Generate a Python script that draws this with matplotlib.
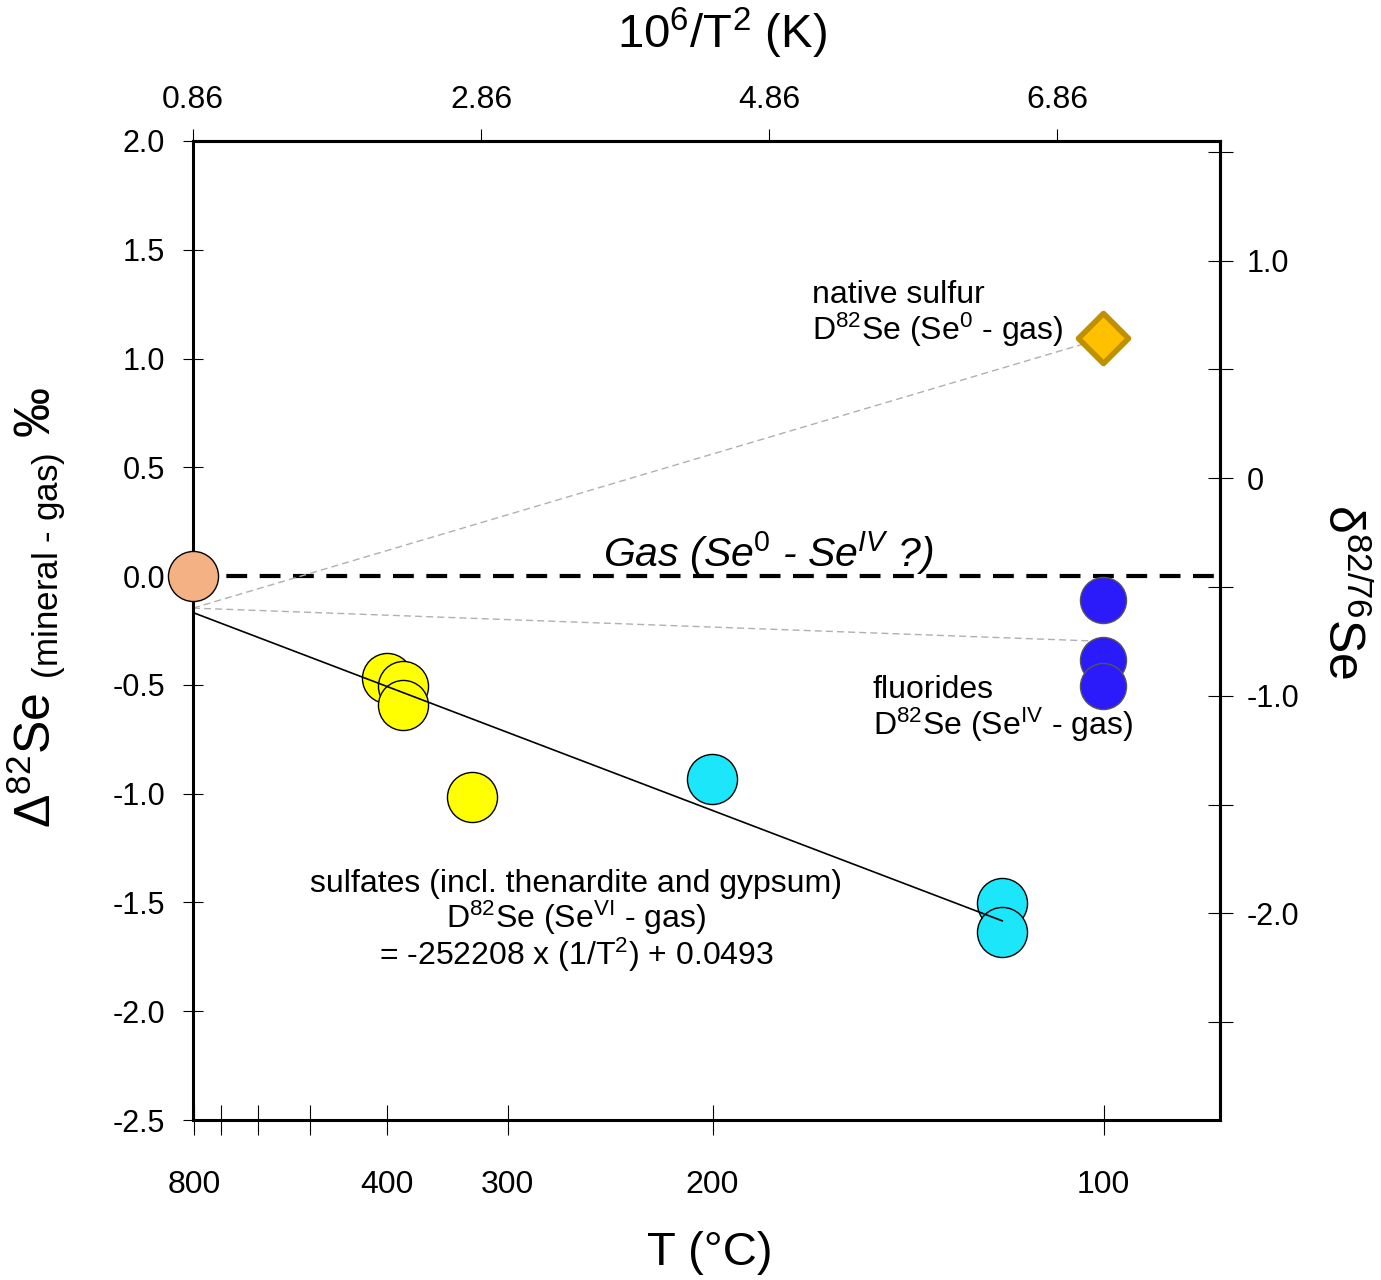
import matplotlib
matplotlib.use("Agg")
import matplotlib.pyplot as plt
from matplotlib.ticker import FixedLocator, FixedFormatter

plt.rcParams['font.family'] = ['Liberation Sans', 'DejaVu Sans']
plt.rcParams['mathtext.fontset'] = 'custom'
plt.rcParams['mathtext.rm'] = 'Liberation Sans'
plt.rcParams['mathtext.it'] = 'Liberation Sans:italic'
plt.rcParams['mathtext.bf'] = 'Liberation Sans:bold'

# ── Data (x = 10^6/T^2 in K, y = Δ82Se mineral - gas, ‰) ───────────────────
gas_x = [0.86]
gas_y = [0.0]
sulfate_hot_x = [2.207, 2.318, 2.318, 2.798]
sulfate_hot_y = [-0.470, -0.505, -0.593, -1.016]
sulfate_cool_x = [4.464, 6.478, 6.478]
sulfate_cool_y = [-0.933, -1.503, -1.637]
fluoride_x = [7.18, 7.18, 7.18]
fluoride_y = [-0.110, -0.386, -0.506]
sulfur_x = [7.18]
sulfur_y = [1.094]

# regression for sulfates (from the figure's equation, x in 10^6/T^2)
FIT_SLOPE = -0.252208
FIT_INTERCEPT = 0.0493
fit_x = [0.86, 6.478]

# grey tie lines from the gas origin
tie_x0, tie_y0 = 0.86, -0.147
tie_ends_x = [7.18, 7.18]
tie_ends_y = [1.094, -0.300]

# axes
XLIM = (0.86, 7.99)
YLIM = (-2.5, 2.0)
DELTA_OFFSET = 0.45          # δ82/76Se = Δ82Se - offset
top_ticks = [0.86, 2.86, 4.86, 6.86]
temp_major = [800, 400, 300, 200, 100]
temp_minor = [700, 600, 500]
right_ticks = [-2.5, -2.0, -1.5, -1.0, -0.5, 0.0, 0.5, 1.0, 1.5]
right_labels = ['', '-2.0', '', '-1.0', '', '0', '', '1.0', '']


def inv_t2(t_c):
    return 1e6 / (t_c + 273.15) ** 2


fig = plt.figure(figsize=(13.81, 12.8), dpi=100)
ax = fig.add_axes([193 / 1381, 1 - 1120 / 1280, (1220 - 193) / 1381, (1120 - 141) / 1280])
ax.set_xlim(*XLIM)
ax.set_ylim(*YLIM)

# lines
ax.axhline(0, xmin=0, xmax=1, color="k", lw=3, ls=(0, (5, 3)), zorder=2)
for ex, ey in zip(tie_ends_x, tie_ends_y):
    ax.plot([tie_x0, ex], [tie_y0, ey], color="#b0b0b0", lw=1, ls=(0, (5, 3)), zorder=2)
fit_y = [FIT_SLOPE * x + FIT_INTERCEPT for x in fit_x]
ax.plot(fit_x, fit_y, color="k", lw=1.2, zorder=5)

# points
S = 1300
ax.scatter(gas_x, gas_y, s=S, c="#F4B183", edgecolors="k", linewidths=1, zorder=4, clip_on=False)
ax.scatter(sulfate_hot_x, sulfate_hot_y, s=S, c="#FFFF00", edgecolors="k", linewidths=1, zorder=4)
ax.scatter(sulfate_cool_x, sulfate_cool_y, s=S, c="#1CE6FA", edgecolors="k", linewidths=1, zorder=4)
ax.scatter(fluoride_x, fluoride_y, s=1100, c="#2B1BFA", edgecolors="#555555", linewidths=1, zorder=4)
ax.scatter(sulfur_x, sulfur_y, s=650, marker="D", c="#FFC000", edgecolors="#BF9000",
           linewidths=4, zorder=4)

# annotations
FS = 23
ax.text(5.16, 1.255, "native sulfur", fontsize=FS, ha="left", va="baseline")
ax.text(5.16, 1.085, r"D$^{82}$Se (Se$^{0}$ - gas)", fontsize=FS, ha="left", va="baseline")
ax.text(5.58, -0.561, "fluorides", fontsize=FS, ha="left", va="baseline")
ax.text(5.58, -0.731, r"D$^{82}$Se (Se$^{\mathrm{IV}}$ - gas)", fontsize=FS, ha="left", va="baseline")
ax.text(3.52, -1.453, "sulfates (incl. thenardite and gypsum)", fontsize=FS, ha="center", va="baseline")
ax.text(3.52, -1.618, r"D$^{82}$Se (Se$^{\mathrm{VI}}$ - gas)", fontsize=FS, ha="center", va="baseline")
ax.text(3.52, -1.789, r"= -252208 x (1/T$^{2}$) + 0.0493", fontsize=FS, ha="center", va="baseline")
ax.text(4.85, 0.045, r"Gas (Se$^{\mathit{0}}$ - Se$^{\mathit{IV}}$ ?)", fontsize=29.5,
        style="italic", ha="center", va="baseline")

# bottom axis: temperature
ax.xaxis.set_major_locator(FixedLocator([inv_t2(t) for t in temp_major]))
ax.xaxis.set_major_formatter(FixedFormatter([str(t) for t in temp_major]))
ax.xaxis.set_minor_locator(FixedLocator([inv_t2(t) for t in temp_minor]))
ax.tick_params(axis="x", which="both", direction="inout", length=22, width=0.8,
               pad=25, labelsize=23, top=False)

# left axis
ax.yaxis.set_major_locator(FixedLocator([-2.5, -2.0, -1.5, -1.0, -0.5, 0.0, 0.5, 1.0, 1.5, 2.0]))
ax.yaxis.set_major_formatter(FixedFormatter(["-2.5", "-2.0", "-1.5", "-1.0", "-0.5", "0.0",
                                             "0.5", "1.0", "1.5", "2.0"]))
ax.tick_params(axis="y", direction="inout", length=14, width=0.8, pad=13, labelsize=22, right=False)

for sp in ax.spines.values():
    sp.set_linewidth(2.2)

# top axis: 10^6/T^2
top = ax.secondary_xaxis("top")
top.set_xticks(top_ticks)
top.set_xticklabels(["%.2f" % t for t in top_ticks])
top.tick_params(direction="out", length=9, width=0.8, pad=10, labelsize=23)
top.spines["top"].set_linewidth(2.2)

# right axis: δ82/76Se
right = ax.secondary_yaxis("right", functions=(lambda d: d - DELTA_OFFSET,
                                               lambda d: d + DELTA_OFFSET))
right.yaxis.set_major_locator(FixedLocator(right_ticks))
right.yaxis.set_major_formatter(FixedFormatter(right_labels))
right.tick_params(direction="inout", length=18, width=0.8, pad=10, labelsize=22)
right.spines["right"].set_linewidth(2.2)

# axis titles
fig.text(722 / 1381, 1 - 33 / 1280, r"10$^{6}$/T$^{2}$ (K)", fontsize=34,
         ha="center", va="center")
fig.text(710 / 1381, 1 - 1253 / 1280, "T (°C)", fontsize=34,
         ha="center", va="center")
fig.text(36 / 1381, 1 - 607 / 1280, r"Δ$^{82}$Se $_{\text{(mineral - gas)}}$ ‰",
         fontsize=36, rotation=90, ha="center", va="center")
fig.text(1343 / 1381, 1 - 592 / 1280, r"δ$^{82/76}$Se", fontsize=36, rotation=-90,
         ha="center", va="center")

fig.savefig("out.png", dpi=100)
